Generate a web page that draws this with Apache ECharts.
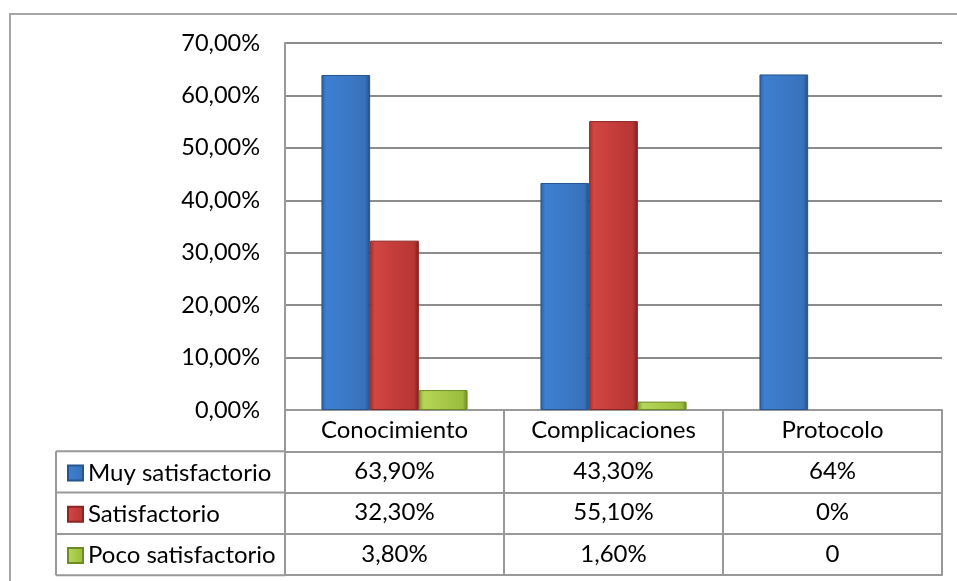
<!DOCTYPE html>
<html>
<head>
<meta charset="utf-8">
<script src="https://cdn.jsdelivr.net/npm/echarts@6/dist/echarts.min.js"></script>
<style>
html,body{margin:0;padding:0;background:#fff;}
#chart{width:957px;height:581px;}
</style>
</head>
<body>
<div id="chart"></div>
<script>
// ---- data ----
var categories = ['Conocimiento', 'Complicaciones', 'Protocolo'];
var seriesNames = ['Muy satisfactorio', 'Satisfactorio', 'Poco satisfactorio'];
var muySatisfactorio = [0.639, 0.433, 0.64];
var satisfactorio = [0.323, 0.551, 0];
var pocoSatisfactorio = [0.038, 0.016, 0];
var rowMuy = ['63,90%', '43,30%', '64%'];
var rowSat = ['32,30%', '55,10%', '0%'];
var rowPoco = ['3,80%', '1,60%', '0'];
var yTicks = [0, 0.1, 0.2, 0.3, 0.4, 0.5, 0.6, 0.7];

var FONT = 'Lato';
var FS = 24;
var YFS = 23.5;
var LINE = '#999999';
var rowH = 41.3;
var gridLeft = 285, gridRightX = 942, axisY = 410, legendLeftX = 56;

function grad(stops) {
  return { type: 'linear', x: 0, y: 0, x2: 1, y2: 0,
    colorStops: stops.map(function (s) { return { offset: s[0], color: s[1] }; }) };
}
var colors = [
  grad([[0, '#2c5f9f'], [0.1, '#3d7fd0'], [0.5, '#3b79c7'], [0.9, '#3871bb'], [1, '#244c82']]),
  grad([[0, '#a33230'], [0.1, '#d24643'], [0.5, '#c43d3a'], [0.9, '#b83634'], [1, '#7a1f1d']]),
  grad([[0, '#7d9c2a'], [0.1, '#b5d658'], [0.5, '#a8c94a'], [0.9, '#9bbd3d'], [1, '#6a8822']])
];
var borderColors = ['#27548e', '#8a2522', '#6f8c24'];
var values = [muySatisfactorio, satisfactorio, pocoSatisfactorio];
var rows = [rowMuy, rowSat, rowPoco];

function fmtPct(v) { return (v * 100).toFixed(2).replace('.', ',') + '%'; }

var xAxes = [];
for (var k = 0; k < 4; k++) {
  (function (k) {
    xAxes.push({
      type: 'category',
      gridIndex: 0,
      position: 'bottom',
      offset: k * rowH,
      data: categories,
      axisLine: { show: true, lineStyle: { color: LINE, width: 2 } },
      axisTick: { show: true, length: rowH, inside: false, lineStyle: { color: LINE, width: 2 } },
      axisLabel: {
        show: true, margin: 7, fontFamily: FONT, fontSize: FS, color: '#000', lineHeight: 26,
        interval: 0,
        formatter: function (v, i) { return k === 0 ? v : rows[k - 1][i]; }
      },
      splitLine: { show: false }
    });
  })(k);
}
// bottom closing line of the table
xAxes.push({
  type: 'category', gridIndex: 0, position: 'bottom', offset: 4 * rowH, data: categories,
  axisLine: { show: true, lineStyle: { color: LINE, width: 2 } },
  axisTick: { show: false }, axisLabel: { show: false }
});

var series = seriesNames.map(function (n, i) {
  return {
    name: n, type: 'bar', xAxisIndex: 0, yAxisIndex: 0,
    data: values[i].map(function (v) {
      return v === 0 ? { value: v, itemStyle: { opacity: 0 } } : v;
    }),
    barWidth: 48.7, barGap: '0%',
    itemStyle: { color: colors[i], borderColor: borderColors[i], borderWidth: 1 }
  };
});

var legends = seriesNames.map(function (n, i) {
  return {
    data: [n], left: 62, top: axisY + rowH * (i + 1) + rowH / 2 - 17,
    orient: 'horizontal', itemWidth: 15, itemHeight: 15, icon: 'rect',
    textStyle: { fontFamily: FONT, fontSize: FS, color: '#000', lineHeight: 26 },
    selectedMode: false
  };
});

var graphics = [
  // outer chart border
  { type: 'polyline', shape: { points: [[10, 581], [10, 14], [957, 14]] },
    style: { stroke: '#a6a6a6', lineWidth: 2, fill: null }, silent: true },
  // legend column box
  { type: 'line', shape: { x1: legendLeftX, y1: axisY + rowH, x2: legendLeftX, y2: axisY + 4 * rowH },
    style: { stroke: LINE, lineWidth: 2 }, silent: true }
];
for (var r = 1; r <= 4; r++) {
  graphics.push({ type: 'line',
    shape: { x1: legendLeftX, y1: axisY + r * rowH, x2: gridLeft, y2: axisY + r * rowH },
    style: { stroke: LINE, lineWidth: 2 }, silent: true });
}

var chart = echarts.init(document.getElementById('chart'), null, { renderer: 'canvas' });
chart.setOption({
  animation: false,
  backgroundColor: '#ffffff',
  grid: { left: gridLeft, top: 43, right: 957 - gridRightX, bottom: 581 - axisY, containLabel: false },
  legend: legends,
  xAxis: xAxes,
  yAxis: {
    type: 'value', min: 0, max: 0.7, interval: 0.1,
    axisLine: { show: true, lineStyle: { color: LINE, width: 2 } },
    axisTick: { show: false },
    splitLine: { show: true, lineStyle: { color: '#8c8c8c', width: 2 } },
    axisLabel: { margin: 25, fontFamily: FONT, fontSize: YFS, color: '#000',
      formatter: function (v) { return fmtPct(v); } }
  },
  series: series,
  graphic: graphics
});
</script>
</body>
</html>
